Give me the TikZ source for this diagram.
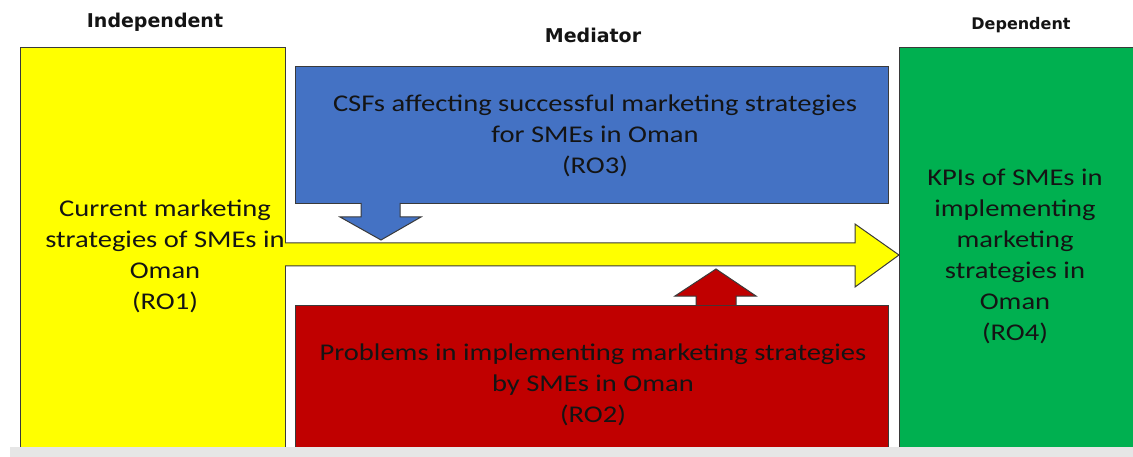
\documentclass[tikz,border=0pt]{standalone}
\usepackage{fontspec}
\setmainfont{Carlito}
\newfontfamily\bodyfont[FakeStretch=1.19]{Carlito}
\newfontfamily\headfont{DejaVu Sans}

\definecolor{ccyellow}{HTML}{FFFF00}
\definecolor{ccblue}{HTML}{4472C4}
\definecolor{ccred}{HTML}{C00000}
\definecolor{ccgreen}{HTML}{00B050}
\definecolor{ccborder}{HTML}{3A3A3A}
\definecolor{cctext}{HTML}{141414}
\definecolor{ccgrey}{HTML}{E6E6E6}

\tikzset{
  box/.style={draw=ccborder, line width=1pt, inner sep=0pt},
  bodytext/.style={font=\bodyfont\fontsize{24}{31}\selectfont, align=center, text=cctext},
  headtext/.style={font=\headfont\bfseries\fontsize{19}{22}\selectfont, text=cctext},
  blockarrow/.style={draw=ccborder, line width=1pt, line join=miter}
}

\begin{document}
\begin{tikzpicture}[x=1pt,y=-1pt]

% Page frame
\useasboundingbox (0,0) rectangle (1133,457);
\clip (0,0) rectangle (1133,457);

% Headings
\node[headtext] (indephead) at (155,22) {Independent};
\node[headtext] (medhead) at (593,35) {Mediator};
\node[headtext, font=\headfont\bfseries\fontsize{16}{19}\selectfont] (dephead) at (1021,25) {Dependent};

% Boxes
\node[box, fill=ccyellow, minimum width=265, minimum height=418, anchor=north west] (indep) at (20,47) {};
\node[box, fill=ccblue, minimum width=593, minimum height=137, anchor=north west] (csf) at (295,66) {};
\node[box, fill=ccred, minimum width=593, minimum height=160, anchor=north west] (prob) at (295,305) {};
\node[box, fill=ccgreen, minimum width=240, minimum height=418, anchor=north west] (dep) at (899,47) {};

% Texts
\node[bodytext] (indeptext) at (165,256) {Current marketing\\strategies of SMEs in\\Oman\\(RO1)};
\node[bodytext] (csftext) at (595,136) {CSFs affecting successful marketing strategies\\for SMEs in Oman\\(RO3)};
\node[bodytext] (probtext) at (593,385) {Problems in implementing marketing strategies\\by SMEs in Oman\\(RO2)};
\node[bodytext] (deptext) at (1015,256) {KPIs of SMEs in\\implementing\\marketing\\strategies in\\Oman\\(RO4)};

% Main arrow
\coordinate (tip) at (dep.west |- 0,255);
\fill[ccyellow] (283,243) -- (855,243) -- (855,224) -- (tip) -- (855,287) -- (855,266) -- (283,266) -- cycle;
\draw[blockarrow] (285,243) -- (855,243) -- (855,224) -- (tip) -- (855,287) -- (855,266) -- (285,266);

% Blue arrow down
\coordinate (bluetip) at (381,240);
\draw[blockarrow, fill=ccblue] (361,203) -- (361,217) -- (340,217) -- (bluetip) -- (421,217) -- (400,217) -- (400,203);

% Red arrow up
\coordinate (redtip) at (716,269);
\draw[blockarrow, fill=ccred] (696,305) -- (696,296) -- (675,296) -- (redtip) -- (756,296) -- (736,296) -- (736,305);

% Grey strip
\fill[ccgrey] (10,447) rectangle (1133,457);

\end{tikzpicture}
\end{document}
